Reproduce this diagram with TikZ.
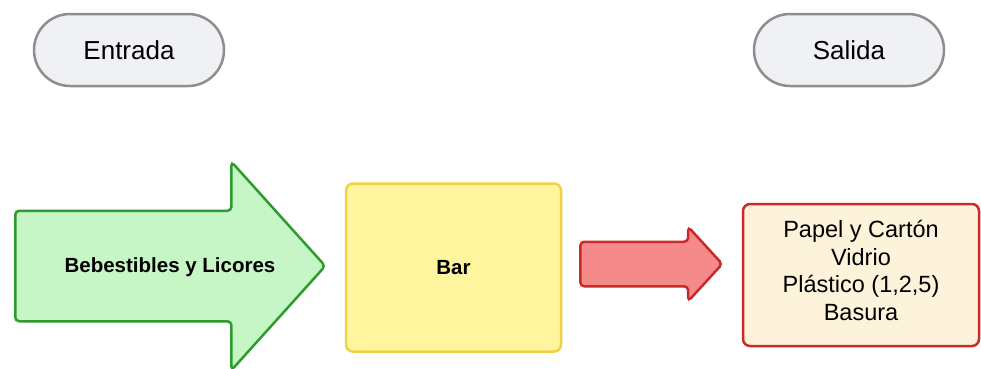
\documentclass[tikz,border=0pt]{standalone}
\usepackage{fontspec}
\setmainfont{Liberation Sans}
\usetikzlibrary{shapes,arrows,positioning}
\definecolor{grisfondo}{HTML}{EFF1F4}
\definecolor{grisborde}{HTML}{8E8E8E}
\definecolor{verdefondo}{HTML}{C6F6C6}
\definecolor{verdeborde}{HTML}{2D9B2D}
\definecolor{amarillofondo}{HTML}{FFF59E}
\definecolor{amarilloborde}{HTML}{EDD245}
\definecolor{rojofondo}{HTML}{F58A8A}
\definecolor{rojoborde}{HTML}{C92A2A}
\definecolor{cremafondo}{HTML}{FDF3DB}
\tikzset{
    %Define style for the start/end pills
    etapa/.style={
           rectangle,
           rounded corners=36pt,
           draw=grisborde, line width=2.5pt,
           fill=grisfondo,
           minimum width=190pt,
           minimum height=72pt,
           font=\fontsize{26}{30}\selectfont},
    % Define style for block arrows
    flecha/.style={
           single arrow,
           rounded corners=4pt,
           line width=2.5pt,
           text height=0pt, text depth=0pt,
           inner xsep=0pt},
    % Define style for boxes
    caja/.style={
           rectangle,
           rounded corners=7pt,
           line width=2.5pt,
           align=center}
}
\begin{document}
\begin{tikzpicture}[x=1pt, y=-1pt]
 \useasboundingbox (0,0) rectangle (981,368);
 %nodes
 \node[etapa] (entrada) at (129,50) {Entrada};
 \node[etapa] (salida) at (849,50) {Salida};
 \node[flecha, draw=verdeborde, fill=verdefondo,
   minimum height=310pt, minimum width=206pt, inner ysep=54pt,
   single arrow head extend=49pt, single arrow tip angle=96,
   anchor=tail] (bebestibles) at (14,266) {};
 \node[font=\bfseries\fontsize{20.5}{24}\selectfont] (textobebestibles)
   at (170,267) {Bebestibles y Licores};
 \node[caja, draw=amarilloborde, fill=amarillofondo,
   minimum width=215pt, minimum height=168pt,
   font=\bfseries\fontsize{20.5}{24}\selectfont] (bar) at (453.5,267.5) {Bar};
 \node[flecha, draw=rojoborde, fill=rojofondo,
   minimum height=142pt, minimum width=72pt, inner ysep=21pt,
   single arrow head extend=15pt, single arrow tip angle=95,
   anchor=tail] (residuos) at (579,264) {};
 \node[caja, draw=rojoborde, fill=cremafondo,
   minimum width=236pt, minimum height=142pt, text depth=9pt,
   font=\fontsize{23.5}{27.5}\selectfont] (salidas) at (861,275)
   {Papel y Cartón\\Vidrio\\Plástico (1,2,5)\\Basura};
\end{tikzpicture}
\end{document}
